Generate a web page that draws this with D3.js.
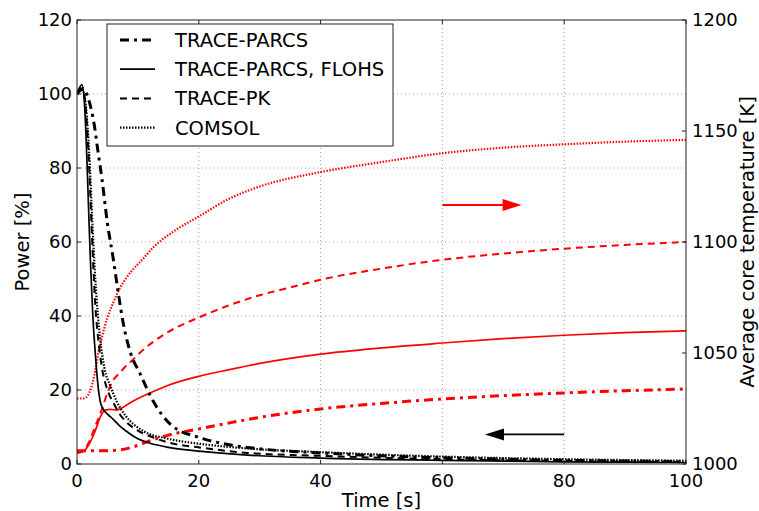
<!DOCTYPE html>
<html>
<head>
<meta charset="utf-8">
<script src="https://cdn.jsdelivr.net/npm/d3@7"></script>
<style>
  body { margin: 0; background: #fff; }
  text { font-family: "DejaVu Sans", sans-serif; fill: #000; }
</style>
</head>
<body>
<div id="chart"></div>
<script>
// power curves (left axis, %) -- time in s
var tParcs   = [0, 1, 2, 2.8, 3.4, 4.1, 5, 5.9, 6.8, 7.6, 8.8, 10.3, 12.5, 15.5, 20, 25, 30, 40, 50, 60, 70, 80, 90, 100];
var pParcs   = [100, 101.5, 98, 92, 85, 77, 65, 56, 46, 38, 30, 24.6, 17, 10.5, 7.2, 5.2, 4.1, 3, 2.2, 1.7, 1.3, 1.0, 0.8, 0.6];
var tFlohs   = [0, 0.5, 0.8, 1.2, 1.5, 1.8, 2.2, 2.6, 3, 3.4, 3.8, 4.3, 5, 6, 7, 8, 10, 12, 15, 20, 28, 40, 60, 80, 100];
var pFlohs   = [100, 102, 102.5, 98, 88, 74, 55, 40, 30, 22, 17, 14.8, 13.5, 12, 10.3, 9, 6.8, 5.6, 4.5, 3.5, 2.4, 1.6, 1.0, 0.6, 0.4];
var tPk      = [0, 0.5, 1, 1.5, 2, 2.5, 3, 3.5, 4, 5, 6, 7, 8, 10, 12, 15, 20, 28, 40, 60, 80, 100];
var pPk      = [100, 101, 101, 95, 80, 60, 43, 33.5, 27, 20, 16.5, 13.5, 11.5, 9, 7.5, 5.8, 4.5, 3, 2.2, 1.3, 0.8, 0.5];
var tComsol  = [0, 0.5, 1, 1.5, 2, 2.5, 3, 3.8, 4.5, 5.5, 6.5, 8, 10.8, 15, 20, 28, 40, 60, 80, 100];
var pComsol  = [100, 101.5, 101, 96, 84, 66, 50, 34, 26, 21, 17, 13, 9, 6.8, 5.5, 4.2, 3.2, 2, 1.3, 0.9];

// temperature curves (right axis, K)
var tTParcs  = [0, 2, 5, 7, 9, 12, 15, 20, 25, 30, 40, 50, 60, 70, 80, 90, 100];
var kTParcs  = [1006, 1006, 1006, 1006.3, 1007.5, 1010.5, 1013, 1015.8, 1018.5, 1021, 1024.8, 1027.3, 1029.3, 1030.8, 1032, 1033, 1033.8];
var tTFlohs  = [0, 1, 2, 3, 3.8, 4.6, 5.5, 6.5, 7.5, 9, 12, 15, 20, 25, 30, 40, 50, 60, 70, 80, 90, 100];
var kTFlohs  = [1005, 1005.5, 1009, 1015, 1021, 1024.3, 1024.6, 1024.3, 1025.5, 1028, 1032, 1035.5, 1039.5, 1042.5, 1045.3, 1049.5, 1052.3, 1054.5, 1056.5, 1058, 1059.2, 1060];
var tTPk     = [0, 1, 2, 3, 4, 5, 6, 7, 8, 9, 10.3, 12.5, 15, 20, 25, 30, 35, 40, 50, 60, 70, 80, 90, 100];
var kTPk     = [1005, 1006, 1010, 1017, 1024, 1032, 1038, 1041, 1044, 1046.5, 1050, 1055, 1059.5, 1066, 1071.5, 1076, 1079.5, 1083, 1088, 1092, 1094.8, 1097, 1098.7, 1100];
var tTComsol = [0, 1, 1.5, 2, 2.5, 3, 3.5, 4, 5, 6, 7, 8, 9, 10.7, 12.5, 16, 20, 25, 30, 40, 50, 60, 70, 80, 90, 100];
var kTComsol = [1029.5, 1029.5, 1030, 1032, 1036, 1042, 1050, 1056, 1066, 1073, 1079, 1083.5, 1087, 1092, 1097.5, 1105, 1111.5, 1119.5, 1125, 1131.5, 1136, 1140, 1142.5, 1144, 1145.2, 1146];

var legendNames = ["TRACE-PARCS", "TRACE-PARCS, FLOHS", "TRACE-PK", "COMSOL"];
var xTicks = [0, 20, 40, 60, 80, 100];
var yTicks = [0, 20, 40, 60, 80, 100, 120];
var y2Ticks = [1000, 1050, 1100, 1150, 1200];

var W = 759, H = 511;
var m = {left: 77, right: 73, top: 20, bottom: 47};
var pw = W - m.left - m.right, ph = H - m.top - m.bottom;

var x = d3.scaleLinear().domain([0, 100]).range([0, pw]);
var y = d3.scaleLinear().domain([0, 120]).range([ph, 0]);
var y2 = d3.scaleLinear().domain([1000, 1200]).range([ph, 0]);

// line styles per series
var styles = [
  {dash: "9,5,3,5", width: 3},
  {dash: null, width: 1.7},
  {dash: "7,5", width: 2},
  {dash: "1.5,1.5", width: 2.2}
];

var svg = d3.select("#chart").append("svg")
  .attr("width", W).attr("height", H);
var g = svg.append("g").attr("transform", "translate(" + m.left + "," + m.top + ")");

// grid
g.append("g").selectAll("line").data(xTicks.slice(1, -1)).enter().append("line")
  .attr("x1", function(d){return x(d);}).attr("x2", function(d){return x(d);})
  .attr("y1", 0).attr("y2", ph)
  .style("stroke", "#a0a0a0").style("stroke-width", 1).style("stroke-dasharray", "1,3");
g.append("g").selectAll("line").data(yTicks.slice(1, -1)).enter().append("line")
  .attr("x1", 0).attr("x2", pw)
  .attr("y1", function(d){return y(d);}).attr("y2", function(d){return y(d);})
  .style("stroke", "#a0a0a0").style("stroke-width", 1).style("stroke-dasharray", "1,3");

function curve(ts, vs, sc) {
  var pts = ts.map(function(t, i){ return [t, vs[i]]; });
  return d3.line().x(function(d){return x(d[0]);}).y(function(d){return sc(d[1]);})
    .curve(d3.curveMonotoneX)(pts);
}

var power = [[tParcs, pParcs], [tFlohs, pFlohs], [tPk, pPk], [tComsol, pComsol]];
var temps = [[tTParcs, kTParcs], [tTFlohs, kTFlohs], [tTPk, kTPk], [tTComsol, kTComsol]];

svg.append("defs").append("clipPath").attr("id", "plotclip")
  .append("rect").attr("width", pw).attr("height", ph);
var lines = g.append("g").attr("clip-path", "url(#plotclip)");

temps.forEach(function(s, i){
  lines.append("path").attr("d", curve(s[0], s[1], y2))
    .style("fill", "none").style("stroke", "#ff0000")
    .style("stroke-width", styles[i].width)
    .style("stroke-dasharray", styles[i].dash);
});
power.forEach(function(s, i){
  lines.append("path").attr("d", curve(s[0], s[1], y))
    .style("fill", "none").style("stroke", "#000")
    .style("stroke-width", styles[i].width)
    .style("stroke-dasharray", styles[i].dash);
});

// arrows
function arrow(t0, t1, p, col) {
  var dir = t1 > t0 ? 1 : -1;
  var xe = x(t1), yy = y(p);
  g.append("line").attr("x1", x(t0)).attr("x2", xe - dir * 16).attr("y1", yy).attr("y2", yy)
    .style("stroke", col).style("stroke-width", 1.8);
  g.append("path")
    .attr("d", "M" + xe + "," + yy + "L" + (xe - dir * 19) + "," + (yy - 6) + "L" + (xe - dir * 19) + "," + (yy + 6) + "Z")
    .style("fill", col);
}
arrow(60, 73, 70, "#ff0000");
arrow(80, 67, 8, "#000");

// frame
g.append("rect").attr("width", pw).attr("height", ph)
  .style("fill", "none").style("stroke", "#222").style("stroke-width", 1);

// ticks (inward)
var tk = g.append("g").style("stroke", "#222").style("stroke-width", 1);
xTicks.forEach(function(d){
  tk.append("line").attr("x1", x(d)).attr("x2", x(d)).attr("y1", ph).attr("y2", ph - 4);
  tk.append("line").attr("x1", x(d)).attr("x2", x(d)).attr("y1", 0).attr("y2", 4);
});
yTicks.forEach(function(d){
  tk.append("line").attr("x1", 0).attr("x2", 4).attr("y1", y(d)).attr("y2", y(d));
});
y2Ticks.forEach(function(d){
  tk.append("line").attr("x1", pw).attr("x2", pw - 4).attr("y1", y2(d)).attr("y2", y2(d));
});

// tick labels
var tickSize = "18px";
g.append("g").selectAll("text").data(xTicks).enter().append("text")
  .attr("x", function(d){return x(d);}).attr("y", ph + 23)
  .attr("text-anchor", "middle").style("font-size", tickSize).text(function(d){return d;});
g.append("g").selectAll("text").data(yTicks).enter().append("text")
  .attr("x", -5).attr("y", function(d){return y(d);}).attr("dy", "0.36em")
  .attr("text-anchor", "end").style("font-size", tickSize).text(function(d){return d;});
g.append("g").selectAll("text").data(y2Ticks).enter().append("text")
  .attr("x", pw + 6).attr("y", function(d){return y2(d);}).attr("dy", "0.36em")
  .attr("text-anchor", "start").style("font-size", tickSize).text(function(d){return d;});

// axis labels
var labSize = "19.5px";
svg.append("text").attr("x", m.left + pw / 2).attr("y", 507)
  .attr("text-anchor", "middle").style("font-size", labSize).text("Time [s]");
svg.append("text").attr("transform", "translate(29," + (m.top + ph / 2) + ") rotate(-90)")
  .attr("text-anchor", "middle").style("font-size", labSize).text("Power [%]");
svg.append("text").attr("transform", "translate(754," + (m.top + ph / 2) + ") rotate(-90)")
  .attr("text-anchor", "middle").style("font-size", labSize).text("Average core temperature [K]");

// legend
var lg = svg.append("g").attr("transform", "translate(107,24)");
lg.append("rect").attr("width", 286).attr("height", 122)
  .style("fill", "#fff").style("stroke", "#222").style("stroke-width", 1);
legendNames.forEach(function(name, i){
  var yy = 16 + i * 29.2;
  lg.append("line").attr("x1", 13).attr("x2", 48).attr("y1", yy).attr("y2", yy)
    .style("stroke", "#000").style("stroke-width", styles[i].width)
    .style("stroke-dasharray", styles[i].dash);
  lg.append("text").attr("x", 68).attr("y", yy).attr("dy", "0.36em")
    .style("font-size", labSize).text(name);
});
</script>
</body>
</html>
